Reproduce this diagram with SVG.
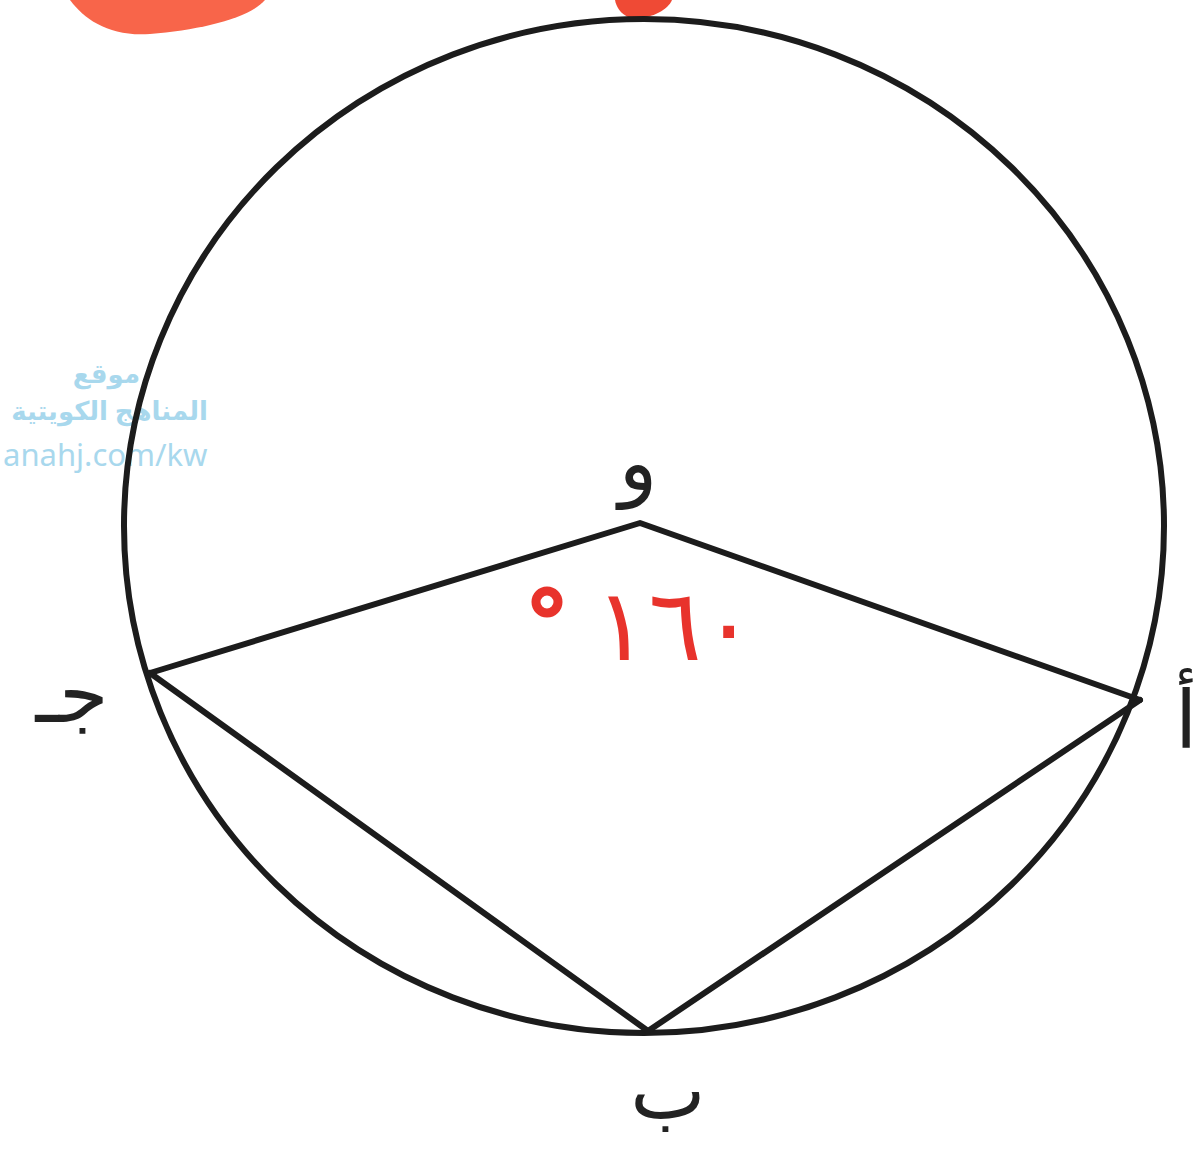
<svg xmlns="http://www.w3.org/2000/svg" width="1204" height="1165" viewBox="0 0 1204 1165">
<style>
.ln{fill:none;stroke:#1c1c1c;stroke-width:6;stroke-linecap:round;stroke-linejoin:round}
.lbl{font-family:"Noto Sans","DejaVu Sans",sans-serif;fill:#222}
.wm{font-family:"Noto Sans","DejaVu Sans",sans-serif;fill:#9fd4ec}
.red{font-family:"Noto Sans","DejaVu Sans",sans-serif;fill:#e8332c}
</style>
<rect width="1204" height="1165" fill="#ffffff"/>
<g id="blob">
<path d="M70,0 L265,0 C250,18 200,30 150,34 C110,37 85,20 70,0 Z" fill="#f8654a"/>
<path d="M615,0 L672,0 C668,10 650,20 630,18 C620,14 616,6 615,0 Z" fill="#ef4a35"/>
</g>
<g id="watermark" opacity="0.9">
<text class="wm" x="140" y="383" font-size="26" font-weight="bold" text-anchor="end">موقع</text>
<text class="wm" x="208" y="420" font-size="26" font-weight="bold" text-anchor="end">المناهج الكويتية</text>
<text class="wm" x="3" y="466" font-size="31">anahj.com/kw</text>
</g>
<g id="circle">
<ellipse class="ln" cx="644" cy="526" rx="520" ry="507"/>
</g>
<g id="connectors">
<polyline class="ln" points="150,673 640,523 1140,700"/>
<polyline class="ln" points="150,673 648,1031 1140,700"/>
</g>
<g id="label-waw"><text class="lbl" x="638" y="490" font-size="80" text-anchor="middle">و</text></g>
<g id="label-jim"><text class="lbl" x="72" y="722" font-size="80" text-anchor="middle">جـ</text></g>
<g id="label-alif"><text class="lbl" x="1186" y="748" font-size="80" text-anchor="middle">أ</text></g>
<g id="label-ba"><text class="lbl" x="668" y="1118" font-size="80" text-anchor="middle">ب</text></g>
<g id="angle">
<circle cx="547" cy="602" r="11" fill="none" stroke="#e8332c" stroke-width="9"/>
<text class="red" x="675" y="660" font-size="100" text-anchor="middle" direction="ltr">١٦٠</text>
</g>
</svg>
